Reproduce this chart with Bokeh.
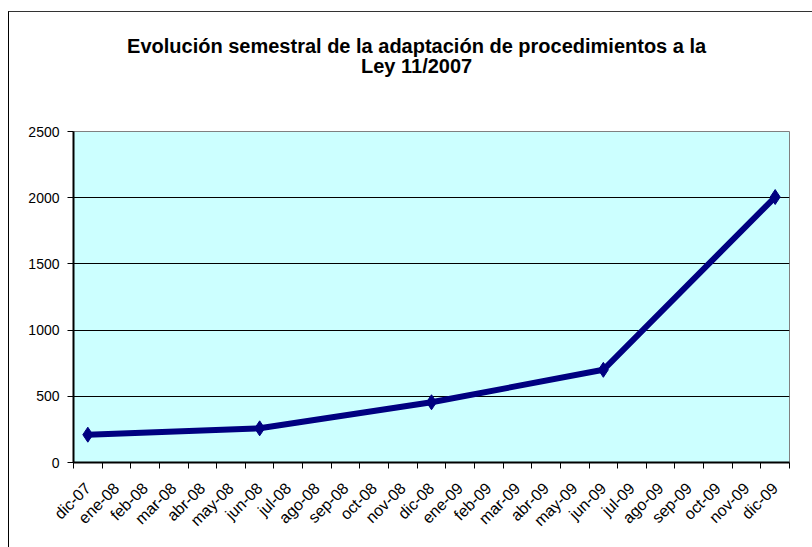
import math
from bokeh.plotting import figure
from bokeh.models import Range1d, FixedTicker, LinearAxis
from bokeh.layouts import column
from bokeh.core.properties import value
from bokeh.embed import file_html
from bokeh.resources import INLINE

months = ["dic-07", "ene-08", "feb-08", "mar-08", "abr-08", "may-08", "jun-08",
          "jul-08", "ago-08", "sep-08", "oct-08", "nov-08", "dic-08", "ene-09",
          "feb-09", "mar-09", "abr-09", "may-09", "jun-09", "jul-09", "ago-09",
          "sep-09", "oct-09", "nov-09", "dic-09"]
point_months = ["dic-07", "jun-08", "dic-08", "jun-09", "dic-09"]
point_values = [210, 258, 455, 700, 2005]
y_ticks = [0, 500, 1000, 1500, 2000, 2500]
title_lines = ["Evolución semestral de la adaptación de procedimientos a la", "Ley 11/2007"]

FONT = "Liberation Sans"
W = 803
HEAD_H = 110

# ---- header (chart title); its frame is aligned with the chart frame by the column ----
h = figure(width=W, height=HEAD_H, output_backend="svg", toolbar_location=None,
           x_range=Range1d(0, len(months)), y_range=Range1d(0, HEAD_H),
           x_axis_type=None, y_axis_type=None,
           min_border_left=0, min_border_right=0, min_border_top=0, min_border_bottom=0)
h.outline_line_color = None
h.background_fill_color = "#FFFFFF"
h.border_fill_color = "#FFFFFF"
h.xgrid.grid_line_color = None
h.ygrid.grid_line_color = None
h.text(x=[11.98, 11.98], y=[77, 57], text=title_lines, text_font=value(FONT),
       text_font_size="20px", text_font_style="bold", text_align="center",
       text_baseline="alphabetic", text_color="#000000")

# ---- main chart ----
p = figure(width=W, height=535 - HEAD_H, output_backend="svg", toolbar_location=None,
           x_range=Range1d(0, len(months)), y_range=Range1d(0, 2500),
           min_border_left=64, min_border_right=23, min_border_top=9, min_border_bottom=85)

p.background_fill_color = "#CCFFFF"
p.border_fill_color = "#FFFFFF"
p.outline_line_color = "#808080"
p.outline_line_width = 1

centers = [i + 0.5 for i in range(len(months))]
bounds = list(range(len(months) + 1))
xs = [months.index(m) + 0.5 for m in point_months]

p.line(xs, point_values, line_color="#000080", line_width=6)
p.scatter(xs, point_values, marker="diamond", size=15, fill_color="#000080", line_color="#000080")

# x axis: tick marks between categories
ax = p.xaxis[0]
ax.ticker = FixedTicker(ticks=bounds)
ax.major_label_overrides = {b: "" for b in bounds}
ax.major_label_text_font_size = "1px"
ax.major_label_standoff = 0
ax.major_tick_out = 6
ax.major_tick_in = 0
ax.minor_tick_line_color = None
ax.major_tick_line_color = "#000000"
ax.axis_line_color = "#000000"
ax.axis_line_width = 2

# x axis labels at category centres
lab = LinearAxis(ticker=FixedTicker(ticks=centers),
                 major_label_overrides={c: m for c, m in zip(centers, months)})
lab.axis_line_color = None
lab.major_tick_line_color = None
lab.minor_tick_line_color = None
lab.major_label_orientation = math.pi / 4
lab.major_label_standoff = 11
lab.major_label_text_font = FONT
lab.major_label_text_font_size = "16px"
lab.major_label_text_color = "#000000"
p.add_layout(lab, "below")

# y axis
p.yaxis.ticker = FixedTicker(ticks=y_ticks)
p.yaxis.minor_tick_line_color = None
p.yaxis.major_tick_out = 6
p.yaxis.major_tick_in = 0
p.yaxis.major_tick_line_color = "#000000"
p.yaxis.axis_line_color = "#000000"
p.yaxis.axis_line_width = 2
p.yaxis.major_label_standoff = 8
p.yaxis.major_label_text_font = FONT
p.yaxis.major_label_text_font_size = "14px"
p.yaxis.major_label_text_color = "#000000"

p.xgrid.grid_line_color = None
p.ygrid.ticker = FixedTicker(ticks=y_ticks[1:])
p.ygrid.grid_line_color = "#000000"
p.ygrid.grid_line_width = 1

layout = column(h, p, spacing=0)
layout.styles = {"border-left": "1px solid #000000", "border-top": "1px solid #333333",
                 "margin-top": "11px", "margin-left": "8px"}

open("out.html", "w").write(file_html(layout, INLINE))
